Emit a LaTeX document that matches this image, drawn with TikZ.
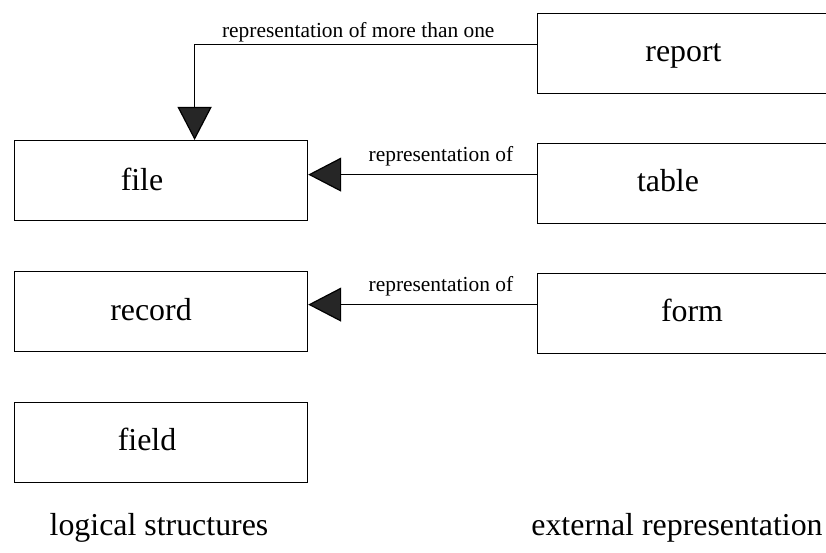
\documentclass[tikz,border=0pt]{standalone}
\usepackage{fontspec}
\setmainfont{Liberation Serif}
\usetikzlibrary{arrows.meta}
\begin{document}
\begin{tikzpicture}[x=1bp,y=-1bp,
  box/.style={draw, line width=1.2bp, minimum width=293bp, minimum height=80bp,
    inner sep=0pt, anchor=north west},
  word/.style={font=\fontsize{32}{36}\selectfont, anchor=base, inner sep=0pt},
  lab/.style={font=\fontsize{21.5}{24}\selectfont, anchor=base, inner sep=0pt},
  link/.style={line width=1.2bp, -{Triangle[length=33bp,width=34bp,fill=black!85]}}]
\useasboundingbox (0,0) rectangle (826,553);
\clip (0,0) rectangle (826,553);

% logical structures (left column)
\node[box] (file)   at (14,140) {};
\node[box] (record) at (14,271) {};
\node[box] (field)  at (14,402) {};
% external representations (right column, running off the edge)
\node[box] (report) at (537,13)  {};
\node[box] (table)  at (537,143) {};
\node[box] (form)   at (537,273) {};

% box captions
\node[word] (file-t)   at (142,191)   {file};
\node[word] (record-t) at (151,321)   {record};
\node[word] (field-t)  at (147,450)   {field};
\node[word] (report-t) at (683.5,62)  {report};
\node[word] (table-t)  at (668,192)   {table};
\node[word] (form-t)   at (692,322)   {form};

% column headings
\node[word] (left-head)  at (159,535) {logical structures};
\node[word] (right-head) at (677,535) {external representation};

% connectors
\coordinate (report-out) at ([yshift=9bp]report.west);
\coordinate (table-out)  at ([yshift=9bp]table.west);
\coordinate (form-out)   at ([yshift=9bp]form.west);

\draw[link] (report-out) -| node[lab, pos=0.261, yshift=7bp] {representation of more than one}
  ([xshift=33.5bp]file.north);
\draw[link] (table-out) -- node[lab, pos=0.42, yshift=13bp] {representation of}
  (table-out -| file.east);
\draw[link] (form-out) -- node[lab, pos=0.42, yshift=13bp] {representation of}
  (form-out -| record.east);
\end{tikzpicture}
\end{document}
